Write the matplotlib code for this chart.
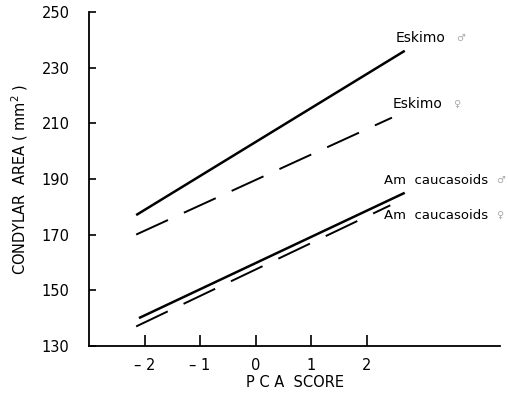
import matplotlib.pyplot as plt

# regression lines (start/end of each line)
eskimo_m_x = [-2.15, 2.68]
eskimo_m_y = [177.0, 236.0]
eskimo_f_x = [-2.15, 2.45]
eskimo_f_y = [170.0, 212.0]
amcau_m_x = [-2.1, 2.68]
amcau_m_y = [140.0, 185.0]
amcau_f_x = [-2.15, 2.42]
amcau_f_y = [137.0, 180.5]

x_ticks = [-2, -1, 0, 1, 2]
x_ticklabels = ['\u2013 2', '\u2013 1', '0', '1', '2']
y_ticks = [130, 150, 170, 190, 210, 230, 250]

fig = plt.figure(figsize=(5.08, 3.94), dpi=100)
ax = fig.add_axes([0.175, 0.122, 0.81, 0.848])

ax.plot(eskimo_m_x, eskimo_m_y, color='black', lw=1.8, solid_capstyle='butt')
ax.plot(eskimo_f_x, eskimo_f_y, color='black', lw=1.4, dashes=(18, 9))
ax.plot(amcau_m_x, amcau_m_y, color='black', lw=1.8, solid_capstyle='butt')
ax.plot(amcau_f_x, amcau_f_y, color='black', lw=1.4, dashes=(18, 9))

# labels at the line ends
txt = dict(fontsize=10, color='black', va='center')
sym = dict(fontsize=7, color='#aaaaaa', va='center')
ax.text(2.52, 240.5, 'Eskimo', **txt)
ax.text(3.6, 240.5, '\u2642', **sym)
ax.text(2.47, 217.0, 'Eskimo', **txt)
ax.text(3.55, 217.0, '\u2640', **sym)
ax.text(2.3, 189.5, 'Am  caucasoids', fontsize=9.5, color='black', va='center')
ax.text(4.33, 189.5, '\u2642', **sym)
ax.text(2.3, 177.0, 'Am  caucasoids', fontsize=9.5, color='black', va='center')
ax.text(4.33, 177.0, '\u2640', **sym)

ax.set_xlim(-3.0, 4.4)
ax.set_ylim(130, 250)
ax.set_xticks(x_ticks)
ax.set_xticklabels(x_ticklabels, fontsize=10.5)
ax.set_yticks(y_ticks)
ax.tick_params(axis='y', direction='in', length=5, width=1.2, labelsize=10.5, pad=14)
ax.tick_params(axis='x', direction='in', length=8, width=1.2, labelsize=10.5, pad=9)

for s in ['top', 'right']:
    ax.spines[s].set_visible(False)
for s in ['left', 'bottom']:
    ax.spines[s].set_linewidth(1.3)

ax.set_xlabel('P C A  SCORE', fontsize=10.5, labelpad=1)
ax.set_ylabel('CONDYLAR  AREA ( mm$^2$ )', fontsize=10.5, labelpad=8)

fig.savefig('out.png', dpi=100)
